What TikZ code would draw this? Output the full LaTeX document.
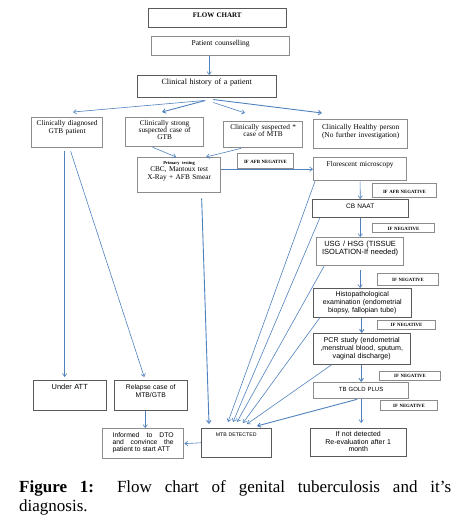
\documentclass[tikz,border=0pt]{standalone}
\usepackage{fontspec}
\setmainfont{Liberation Serif}
\setsansfont{Liberation Sans}
\usetikzlibrary{arrows.meta}
\definecolor{flowblue}{RGB}{79,129,189}

\begin{document}
\begin{tikzpicture}[x=1pt, y=-1pt,
    box/.style={draw=black!65, line width=0.5pt, inner xsep=2pt, inner ysep=0pt,
                anchor=north west, align=center},
    shadowbox/.style={box, draw=black!45, line width=1.3pt},
    negtag/.style={shadowbox, line width=1pt, font=\fontsize{4.8}{5}\selectfont\bfseries},
    boxsize/.style n args={3}{text width=#1pt, text height=#2pt, text depth=#3pt},
    rmtext/.style 2 args={font=\fontsize{#1}{#2}\selectfont},
    sftext/.style 2 args={font=\sffamily\fontsize{#1}{#2}\selectfont},
    flow/.style={->, >={Straight Barb[length=3pt, width=4.5pt]}, draw=flowblue, line width=0.6pt}]
      \useasboundingbox (0,0) rectangle (473,523);

      % Header
      \node[box, rmtext={7}{8}, boxsize={134}{9.3}{9.7}]         (title) at (148,8)  {\textbf{FLOW CHART}};
      \node[shadowbox, rmtext={7.5}{8}, boxsize={134}{9}{10}]    (couns) at (151,36) {Patient counselling};
      \node[box, rmtext={8}{9}, boxsize={135}{9}{13}]            (hist)  at (137,75) {Clinical history of a patient};

      % The four kinds of patient
      \node[shadowbox, rmtext={7.3}{7.5}, boxsize={67}{8}{22}]     (diag)    at (31,117)  {Clinically diagnosed\\GTB patient};
      \node[shadowbox, rmtext={7.3}{7}, boxsize={74}{8}{21}]       (strong)  at (125,117) {Clinically strong\\suspected case of\\GTB};
      \node[shadowbox, rmtext={7.3}{7.5}, boxsize={75}{7.5}{18.5}] (sus)     at (223,121) {Clinically suspected *\\case of MTB};
      \node[shadowbox, rmtext={7.4}{8}, boxsize={90}{9.5}{19.5}]   (healthy) at (313,119) {Clinically Healthy person\\(No further investigation)};

      % Work-up chain on the right
      \node[shadowbox, rmtext={7.3}{7.5}, boxsize={79}{6.5}{28.5}] (prim) at (137,157)
           {{\fontsize{4.5}{5}\selectfont\bfseries Primary testing}\\CBC, Mantoux test\\X-Ray + AFB Smear};
      \node[negtag, boxsize={52}{10}{5}]                           (afb1)   at (237,153) {IF AFB NEGATIVE};
      \node[shadowbox, rmtext={7.3}{8}, boxsize={89}{8.5}{14.5}]   (flor)   at (313,157) {Florescent microscopy};
      \node[negtag, boxsize={60}{9.5}{4.5}]                        (afb2)   at (372,183) {IF AFB NEGATIVE};
      \node[box, sftext={6.5}{8}, boxsize={92}{9}{9}]              (cb)     at (312,199) {CB NAAT};
      \node[negtag, boxsize={58}{7}{2}]                            (neg1)   at (372,223) {IF NEGATIVE};
      \node[shadowbox, sftext={7.5}{8}, boxsize={83}{9}{19}]       (usg)    at (316,237) {USG / HSG (TISSUE\\ISOLATION-If needed)};
      \node[negtag, boxsize={57}{8}{4}]                            (neg2)   at (377,273) {IF NEGATIVE};
      \node[box, sftext={7}{8}, boxsize={94}{8.5}{20.5}]           (histo)  at (313,288) {Histopathological\\examination (endometrial\\biopsy, fallopian tube)};
      \node[negtag, boxsize={54}{6}{3}]                            (neg3)   at (377,320) {IF NEGATIVE};
      \node[box, sftext={7.1}{8}, boxsize={93}{9.5}{21.5}]         (pcr)    at (313,333) {PCR study (endometrial\\,menstrual blood, sputum,\\vaginal discharge)};
      \node[negtag, boxsize={57}{6}{3}]                            (neg4)   at (379,371) {IF NEGATIVE};
      \node[shadowbox, sftext={6}{7}, boxsize={91}{9}{7}]          (gold)   at (313,382) {TB GOLD PLUS};
      \node[negtag, boxsize={53}{6.5}{3.5}]                        (neg5)   at (380,400) {IF NEGATIVE};
      \node[box, sftext={7}{7.6}, boxsize={92}{8.5}{19.5}]         (notdet) at (310,428) {If not detected\\Re-evaluation after 1\\month};

      % Bottom row
      \node[box, sftext={7.4}{8}, boxsize={69}{9}{21}]             (att) at (33,380)  {Under ATT};
      \node[box, sftext={6.8}{8}, boxsize={69}{9}{21}]             (rel) at (114,380) {Relapse case of\\MTB/GTB};
      \node[box, sftext={5.2}{6}, boxsize={66}{8.5}{20.5}]         (mtb) at (201,428) {MTB DETECTED};
      \node[shadowbox, sftext={6.8}{7.3}, boxsize={61}{8.5}{21.5}, inner xsep=10pt, align=justify] (inf) at (102,428)
           {Informed to DTO\linebreak and convince the\linebreak patient to start ATT};

      % Caption
      \node[anchor=base west, inner sep=0pt, text width=432pt, align=justify, rmtext={17}{19.5}] (caption) at (19,492)
           {\textbf{Figure 1:} Flow chart of genital tuberculosis and it’s\linebreak diagnosis.};

      % Arrows, top part
      \draw[flow] ([xshift=2.5]hist.north |- couns.south) -- ([xshift=2.5]hist.north);
      \draw[flow] ([xshift=-2.5,yshift=-3]hist.south) -- ([xshift=42,yshift=5]diag.north west);
      \draw[flow, line width=0.9pt] ([xshift=-1.5,yshift=-3]hist.south) -- ([xshift=37,yshift=5]strong.north west);
      \draw[flow] ([xshift=6.5,yshift=-5]hist.south) -- ([xshift=22,yshift=8]sus.north west);
      \draw[flow, line width=0.9pt] ([xshift=6.5,yshift=-2]hist.south) -- ([xshift=9,yshift=6]healthy.north west);
      \draw[flow] ([xshift=-12]strong.south) -- ([xshift=-3]prim.north);
      \draw[flow] ([xshift=-22]sus.south) -- ([xshift=27]prim.north);
      \draw[flow] (flor.west -| prim.east) -- (flor.west);

      % Arrows down the chain
      \draw[flow] (flor.south) -- (cb.north);
      \draw[flow] (cb.south) -- (cb.south |- usg.north);
      \draw[flow] ([yshift=-4]usg.south) -- (usg.south |- histo.north);
      \draw[flow, line width=0.9pt] (pcr.north |- histo.south) -- (pcr.north);
      \draw[flow, line width=0.9pt] (pcr.south -| gold.north) -- (gold.north);
      \draw[flow] (gold.south) -- ([yshift=5]gold.south |- notdet.north);

      % Arrows down the left
      \draw[flow] ([xshift=-2.5,yshift=-3]diag.south) -- ([xshift=-2.5,yshift=3]diag.south |- att.north);
      \draw[flow] ([xshift=3.5,yshift=-3]diag.south) -- ([xshift=-6.5,yshift=3]rel.north);
      \draw[flow] ([xshift=-5.5]rel.south) -- ([xshift=-5.5]rel.south |- inf.north);
      \draw[flow, line width=0.9pt] ([xshift=22.5,yshift=-5]prim.south) -- ([xshift=8,yshift=4]mtb.north west);
      \draw[flow] (mtb.west) -- (inf.east);

      % Every positive result ends in MTB DETECTED
      \draw[flow] ([xshift=2]flor.south west)  -- ([xshift=27,yshift=6]mtb.north west);
      \draw[flow] ([xshift=8]cb.south west)    -- ([xshift=32,yshift=6]mtb.north west);
      \draw[flow] ([xshift=8]usg.south west)   -- ([xshift=36,yshift=6]mtb.north west);
      \draw[flow] ([xshift=7]histo.south west) -- ([xshift=42,yshift=5]mtb.north west);
      \draw[flow] ([xshift=19]pcr.south west)  -- ([xshift=46,yshift=4]mtb.north west);
      \draw[flow, line width=0.9pt] ([xshift=-4]gold.south) -- ([xshift=56,yshift=2]mtb.north west);
\end{tikzpicture}
\end{document}
